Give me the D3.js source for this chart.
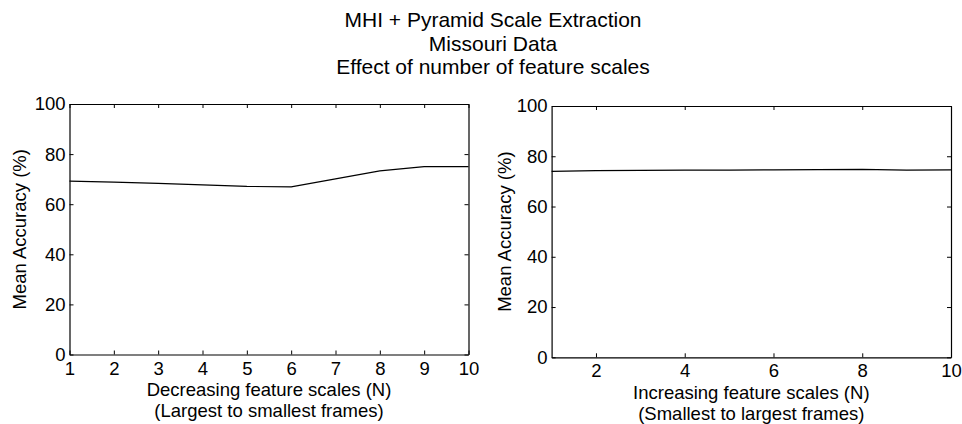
<!DOCTYPE html>
<html>
<head>
<meta charset="utf-8">
<script src="https://cdn.jsdelivr.net/npm/d3@7"></script>
<style>
  html, body { margin: 0; padding: 0; background: #fff; }
  svg text { font-family: "Liberation Sans", Arial, Helvetica, sans-serif; fill: #000; }
</style>
</head>
<body>
<svg id="fig" width="962" height="424"></svg>
<script>
// Feature-scale counts (N) shared by both panels
const scalesN = [1, 2, 3, 4, 5, 6, 7, 8, 9, 10];
// Mean accuracy (%) when dropping scales from largest to smallest frames
const decreasingAcc = [69.2, 68.8, 68.3, 67.7, 67.1, 66.9, 70.1, 73.3, 75.0, 75.0];
// Mean accuracy (%) when adding scales from smallest to largest frames
const increasingAcc = [74.0, 74.3, 74.4, 74.5, 74.5, 74.6, 74.7, 74.8, 74.5, 74.6];
// Axis tick values
const yTicks = [0, 20, 40, 60, 80, 100];
const leftXTicks = [1, 2, 3, 4, 5, 6, 7, 8, 9, 10];
const rightXTicks = [2, 4, 6, 8, 10];
// Text
const titleLines = ["MHI + Pyramid Scale Extraction", "Missouri Data", "Effect of number of feature scales"];
const yLabel = "Mean Accuracy (%)";
const leftXLabel = ["Decreasing feature scales (N)", "(Largest to smallest frames)"];
const rightXLabel = ["Increasing feature scales (N)", "(Smallest to largest frames)"];

const svg = d3.select("#fig");
const FS = 18.5;    // axis font size
const TICK = 4;     // inward tick length

// Figure title
svg.append("g").selectAll("text").data(titleLines).join("text")
  .attr("x", 493).attr("y", (d, i) => 27 + i * 23.5)
  .attr("text-anchor", "middle").attr("font-size", 21).text(d => d);

function panel(cfg) {
  const x = d3.scaleLinear().domain([1, 10]).range([cfg.left, cfg.right]);
  const y = d3.scaleLinear().domain([0, 100]).range([cfg.bottom, cfg.top]);
  const g = svg.append("g");

  // Data line
  const line = d3.line().x((d, i) => x(scalesN[i])).y(d => y(d));
  g.append("path").datum(cfg.values)
    .attr("d", line).attr("fill", "none")
    .attr("stroke", "#000").attr("stroke-width", 1.1);

  // Box-style axes with inward ticks on all four sides
  const bottomAxis = d3.axisBottom(x).tickValues(cfg.xTicks).tickSizeInner(-TICK).tickSizeOuter(0).tickPadding(7);
  const topAxis = d3.axisTop(x).tickValues(cfg.xTicks).tickSizeInner(-TICK).tickSizeOuter(0).tickFormat("");
  const leftAxis = d3.axisLeft(y).tickValues(yTicks).tickSizeInner(-TICK).tickSizeOuter(0).tickPadding(4);
  const rightAxis = d3.axisRight(y).tickValues(yTicks).tickSizeInner(-TICK).tickSizeOuter(0).tickFormat("");

  const styleAxis = a => {
    a.select(".domain").attr("stroke", "#000").attr("stroke-width", 1.2);
    a.selectAll(".tick line").attr("stroke", "#000").attr("stroke-width", 1);
    a.selectAll(".tick text").attr("font-size", FS).attr("font-family", null).attr("fill", "#000");
    a.attr("font-family", null).attr("font-size", null);
  };

  g.append("g").attr("transform", `translate(0,${cfg.bottom})`).call(bottomAxis).call(styleAxis);
  g.append("g").attr("transform", `translate(0,${cfg.top})`).call(topAxis).call(styleAxis);
  g.append("g").attr("transform", `translate(${cfg.left},0)`).call(leftAxis).call(styleAxis);
  g.append("g").attr("transform", `translate(${cfg.right},0)`).call(rightAxis).call(styleAxis);

  // Axis labels
  const cx = (cfg.left + cfg.right) / 2;
  g.append("g").selectAll("text").data(cfg.xLabel).join("text")
    .attr("x", cx).attr("y", (d, i) => cfg.bottom + 41.5 + i * 21)
    .attr("text-anchor", "middle").attr("font-size", FS).text(d => d);
  g.append("text")
    .attr("transform", `translate(${cfg.yLabelX},${(cfg.top + cfg.bottom) / 2}) rotate(-90)`)
    .attr("text-anchor", "middle").attr("font-size", FS).text(yLabel);
}

panel({ left: 69.5, right: 468.5, top: 104, bottom: 354.5, values: decreasingAcc,
        xTicks: leftXTicks, xLabel: leftXLabel, yLabelX: 26 });
panel({ left: 551.6, right: 951, top: 106, bottom: 357.3, values: increasingAcc,
        xTicks: rightXTicks, xLabel: rightXLabel, yLabelX: 511 });
</script>
</body>
</html>
